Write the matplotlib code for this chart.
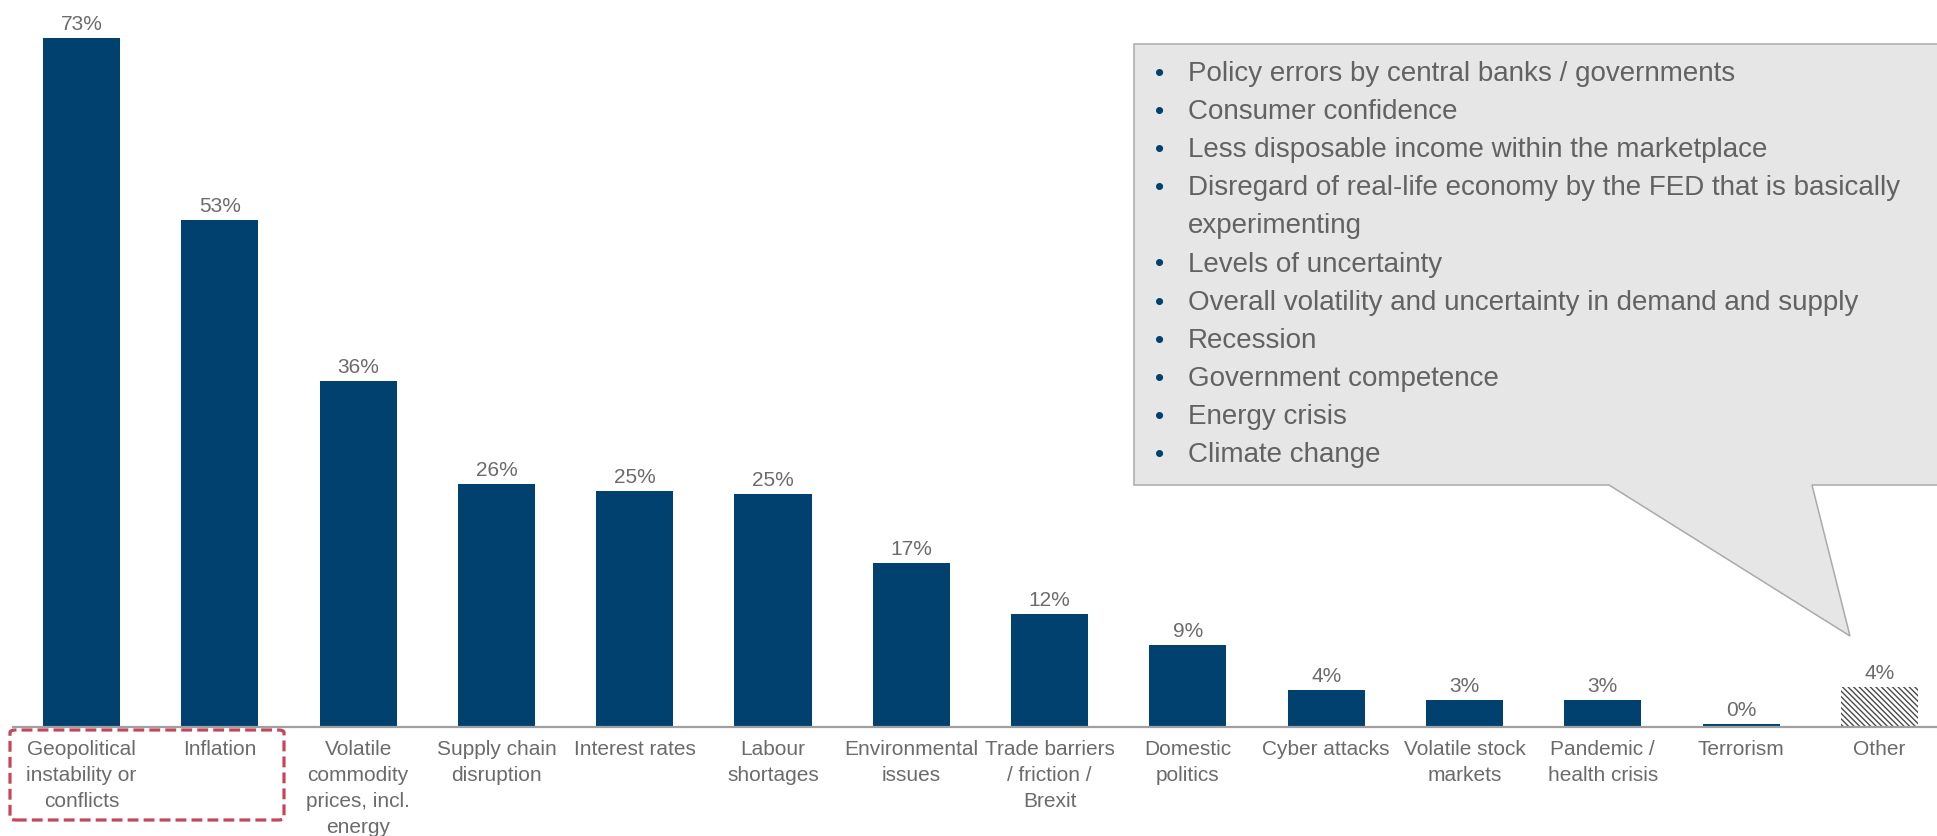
import matplotlib
matplotlib.use("Agg")
import matplotlib.pyplot as plt
from matplotlib.patches import Polygon, FancyBboxPatch

plt.rcParams['font.family'] = ['Liberation Sans', 'DejaVu Sans']
plt.rcParams['hatch.linewidth'] = 1.0

# ---- data ----
categories = [
    "Geopolitical\ninstability or\nconflicts", "Inflation",
    "Volatile\ncommodity\nprices, incl.\nenergy", "Supply chain\ndisruption",
    "Interest rates", "Labour\nshortages", "Environmental\nissues",
    "Trade barriers\n/ friction /\nBrexit", "Domestic\npolitics", "Cyber attacks",
    "Volatile stock\nmarkets", "Pandemic /\nhealth crisis", "Terrorism", "Other",
]
values = [73, 53.7, 36.6, 25.7, 25.0, 24.7, 17.4, 12.0, 8.7, 3.95, 2.86, 2.86, 0.3, 4.2]
value_labels = ["73%", "53%", "36%", "26%", "25%", "25%", "17%", "12%", "9%",
                "4%", "3%", "3%", "0%", "4%"]
other_items = [
    "Policy errors by central banks / governments",
    "Consumer confidence",
    "Less disposable income within the marketplace",
    "Disregard of real-life economy by the FED that is basically\nexperimenting",
    "Levels of uncertainty",
    "Overall volatility and uncertainty in demand and supply",
    "Recession",
    "Government competence",
    "Energy crisis",
    "Climate change",
]

W, H = 1937, 837
BAR = "#00416F"
GRAY_TXT = "#6B6B6B"

fig = plt.figure(figsize=(W / 100, H / 100), dpi=100)
ax = fig.add_axes([13 / W, (H - 728) / H, (W - 13) / W, 728 / H])

def fx(x):
    return x / W

def fy(y):
    return 1 - y / H

n = len(values)
xs = list(range(n))
colors = [BAR] * (n - 1) + ["white"]
bars = ax.bar(xs, values, width=0.557, color=colors, linewidth=0, zorder=2)
# hatched "Other"
bars[-1].set_hatch("\\\\\\\\\\\\")
bars[-1].set_edgecolor("#4A4A4A")
bars[-1].set_linewidth(0)

ax.set_xlim((13 - 81.5) / 138.3, (W - 81.5) / 138.3)
ax.set_ylim(0, 728 / 9.44)

for s in ["top", "right", "left"]:
    ax.spines[s].set_visible(False)
ax.spines["bottom"].set_color("#A0A0A0")
ax.spines["bottom"].set_linewidth(1.6)
ax.spines["bottom"].set_zorder(3)
ax.set_xticks([])
ax.set_yticks([])

for x, v, lab in zip(xs, values, value_labels):
    ax.annotate(lab, xy=(x, v), xytext=(0, 6.5), textcoords="offset points",
                ha="center", va="baseline", fontsize=15, color=GRAY_TXT,
                annotation_clip=False)

for x, cat in zip(xs, categories):
    ax.annotate(cat, xy=(x, 0), xytext=(0, -8.5), textcoords="offset points",
                ha="center", va="top", fontsize=15, color=GRAY_TXT,
                linespacing=1.47, annotation_clip=False)

# dashed highlight box
box = FancyBboxPatch((fx(10), fy(821)), fx(284) - fx(10), fy(731) - fy(821),
                     boxstyle="round,pad=0,rounding_size=0.003",
                     transform=fig.transFigure, fill=False,
                     edgecolor="#C2465C", linewidth=2.3,
                     linestyle=(0, (3.4, 1.6)), zorder=5)
fig.patches.append(box)

# callout
pts = [(1134, 45), (1950, 45), (1950, 486), (1812, 486), (1850, 637),
       (1609, 486), (1134, 486)]
call = Polygon([(fx(x), fy(y)) for x, y in pts], closed=True,
               transform=fig.transFigure, facecolor="#E6E6E6",
               edgecolor="#AAAAAA", linewidth=1.1, zorder=1)
fig.patches.append(call)

y0 = 74
step = 38.1
row = 0
for item in other_items:
    yy = y0 + row * step
    fig.text(fx(1155), fy(yy), "\u2022", color=BAR, fontsize=19,
             ha="left", va="center")
    fig.text(fx(1188), fy(yy), item.split("\n")[0], color="#626262",
             fontsize=20, ha="left", va="center")
    row += 1
    for extra in item.split("\n")[1:]:
        yy = y0 + row * step
        fig.text(fx(1188), fy(yy), extra, color="#626262", fontsize=20,
                 ha="left", va="center")
        row += 1

fig.savefig("out.png", dpi=100)
